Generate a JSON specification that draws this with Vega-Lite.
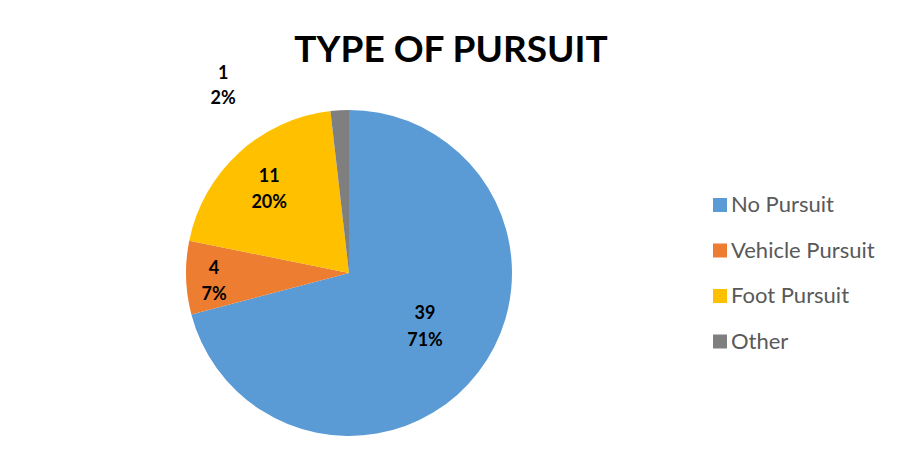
{
  "$schema": "https://vega.github.io/schema/vega-lite/v6.json",
  "width": 698,
  "height": 386,
  "autosize": "none",
  "padding": {"left": 0, "top": 80, "right": 204, "bottom": 0},
  "background": "white",
  "config": {"view": {"stroke": null}},
  "title": {"text": "TYPE OF PURSUIT", "font": "Lato", "fontSize": 37, "fontWeight": "bold", "color": "black", "anchor": "middle", "dx": 102, "offset": -5},
  "data": {"values": [
    {"category": "No Pursuit", "rank": 1, "count": 39, "label": "39\n71%"},
    {"category": "Vehicle Pursuit", "rank": 2, "count": 4, "label": "4\n7%"},
    {"category": "Foot Pursuit", "rank": 3, "count": 11, "label": "11\n20%"},
    {"category": "Other", "rank": 4, "count": 1, "label": "1\n2%"}
  ]},
  "encoding": {
    "theta": {"field": "count", "type": "quantitative", "stack": true},
    "order": {"field": "rank", "type": "quantitative", "sort": "ascending"}
  },
  "layer": [
    {
      "mark": {"type": "arc", "outerRadius": 163},
      "encoding": {
        "color": {
          "field": "category", "type": "nominal",
          "sort": ["No Pursuit", "Vehicle Pursuit", "Foot Pursuit", "Other"],
          "scale": {"domain": ["No Pursuit", "Vehicle Pursuit", "Foot Pursuit", "Other"], "range": ["#5B9BD5", "#ED7D31", "#FFC000", "#7F7F7F"]},
          "legend": {"orient": "none", "legendX": 709, "legendY": 114, "title": null, "symbolType": "square", "symbolSize": 196, "symbolStrokeWidth": 0, "labelFont": "Lato", "labelFontSize": 22, "labelColor": "#595959", "rowPadding": 23.5, "labelOffset": 0}
        }
      }
    },
    {
      "mark": {"type": "text", "radius": 96, "dy": -18, "font": "Lato", "fontSize": 18, "fontWeight": "bold", "fill": "black", "lineBreak": "\n", "lineHeight": 27},
      "encoding": {"text": {"condition": {"test": "datum.category === 'No Pursuit'", "field": "label", "type": "nominal"}, "value": ""}}
    },
    {
      "mark": {"type": "text", "radius": 135, "dy": -8, "font": "Lato", "fontSize": 18, "fontWeight": "bold", "fill": "black", "lineBreak": "\n", "lineHeight": 26},
      "encoding": {"text": {"condition": {"test": "datum.category === 'Vehicle Pursuit'", "field": "label", "type": "nominal"}, "value": ""}}
    },
    {
      "mark": {"type": "text", "radius": 118, "dy": -9, "font": "Lato", "fontSize": 18, "fontWeight": "bold", "fill": "black", "lineBreak": "\n", "lineHeight": 26},
      "encoding": {"text": {"condition": {"test": "datum.category === 'Foot Pursuit'", "field": "label", "type": "nominal"}, "value": ""}}
    },
    {
      "mark": {"type": "text", "radius": 190, "dx": -115, "dy": -9, "font": "Lato", "fontSize": 18, "fontWeight": "bold", "fill": "black", "lineBreak": "\n", "lineHeight": 25},
      "encoding": {"text": {"condition": {"test": "datum.category === 'Other'", "field": "label", "type": "nominal"}, "value": ""}}
    }
  ]
}
